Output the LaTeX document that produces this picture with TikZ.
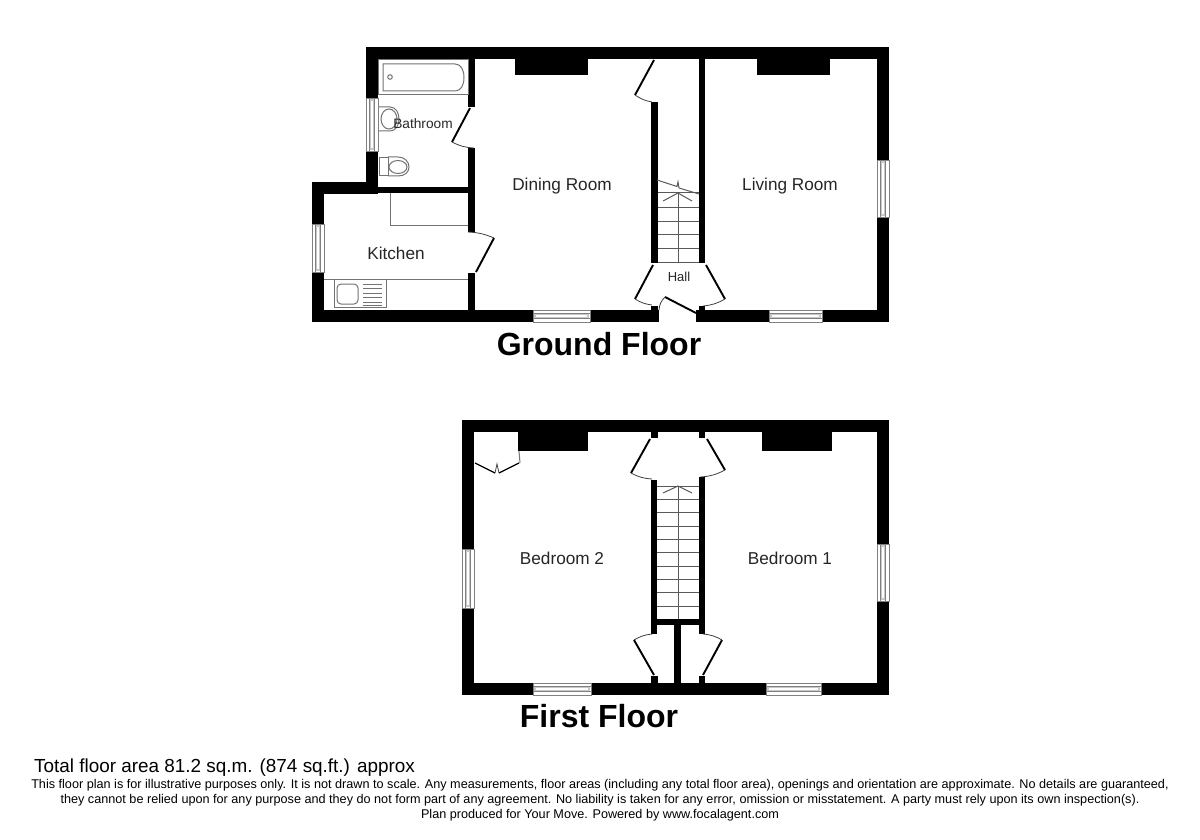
\documentclass[tikz,border=0pt]{standalone}
\usepackage{fontspec}
\setmainfont{Liberation Sans}
\tikzset{
  wall/.style={fill=black,draw=none},
  leaf/.style={line width=1.9pt,black},
  swing/.style={line width=0.8pt,black!75},
  thin line/.style={line width=1pt,black!65},
  fixture/.style={line width=1pt,black!55},
  roomlabel/.style={font=\fontsize{17.2}{20}\selectfont,text=black!85,inner sep=0pt},
  floorlabel/.style={font=\fontsize{32}{36}\selectfont\bfseries,inner sep=0pt},
  note/.style={font=\fontsize{12.65}{15}\selectfont,inner sep=0pt},
}
\newcommand{\hwin}[3]{% x1 x2 ytop
  \fill[white] (#1,#3) rectangle (#2,#3+12);
  \draw[line width=0.7pt,black!50] (#1,#3) rectangle (#2,#3+12);
  \draw[line width=0.7pt,black!50] (#1,#3+3.5) -- (#2,#3+3.5) (#1,#3+8.5) -- (#2,#3+8.5);
  \fill[black!22] (#1+1,#3+4) rectangle (#2-1,#3+8);
  \fill[white] (#1+3,#3+5) rectangle (#2-3,#3+7);
}
\newcommand{\vwin}[3]{% xleft y1 y2
  \fill[white] (#1,#2) rectangle (#1+12,#3);
  \draw[line width=0.7pt,black!50] (#1,#2) rectangle (#1+12,#3);
  \draw[line width=0.7pt,black!50] (#1+3.5,#2) -- (#1+3.5,#3) (#1+8.5,#2) -- (#1+8.5,#3);
  \fill[black!22] (#1+4,#2+1) rectangle (#1+8,#3-1);
  \fill[white] (#1+5,#2+3) rectangle (#1+7,#3-3);
}
\begin{document}
\begin{tikzpicture}[x=1pt,y=-1pt]
\useasboundingbox[fill=white] (0,0) rectangle (1200,840);
% ---------- Ground floor walls
\path[wall] (366,47) rectangle (889,59);
\path[wall] (877,47) rectangle (889,322);
\path[wall] (312,310) rectangle (889,322);
\path[wall] (366,47) rectangle (378,193);
\path[wall] (312,182) rectangle (378,194);
\path[wall] (378,187) rectangle (475,193);
\path[wall] (312,182) rectangle (324,322);
\path[wall] (468,59) rectangle (475,107);
\path[wall] (468,148) rectangle (475,232);
\path[wall] (468,273) rectangle (475,310);
\path[wall] (515,59) rectangle (588,75);
\path[wall] (757,59) rectangle (830,75);
\path[wall] (651,102) rectangle (658,263);
\path[wall] (699,59) rectangle (705,263);
\path[wall] (651,306) rectangle (658,310);
\path[wall] (699,306) rectangle (705,310);
\fill[white] (659,310) rectangle (696,322.5);
\hwin{533}{590}{310}
\hwin{769}{822}{310}
\vwin{366}{98}{151}
\vwin{312}{224}{272}
\vwin{877}{160}{217}
% doors
\draw[leaf] (654,60) -- (635,95);
\draw[swing] (635,95) to[bend right=12] (652,102);
\draw[leaf] (470,108) -- (452,142);
\draw[swing] (452,142) to[bend right=12] (474,148);
\draw[swing] (468,232) to[bend left=10] (494,238);
\draw[leaf] (494,238) -- (476,272);
\draw[leaf] (653,265) -- (635,299);
\draw[swing] (635,299) to[bend right=12] (652,305);
\draw[leaf] (706,265) -- (725,299);
\draw[swing] (725,299) to[bend left=12] (703,306);
\draw[leaf] (696,313) -- (665,297);
\draw[swing] (665,297) to[bend right=20] (659,310);
% stairs ground
\foreach \yy in {193,207,221,234,248,262} \draw[thin line] (658,\yy) -- (699,\yy);
\draw[thin line] (678,193) -- (678,262);
\draw[thin line] (657,180) -- (677,186.5) -- (678,182) -- (679,188) -- (699,194);
\draw[thin line] (663,201) -- (678,193) -- (692,201);
% bathroom fixtures
\draw[fixture] (378.5,59.5) rectangle (468,95);
\draw[fixture] (383,64) -- (455,64) .. controls (461,64) and (464,70) .. (464,77.5) .. controls (464,85) and (461,91) .. (455,91) -- (383,91) -- cycle;
\draw[fixture] (390,77) circle (2.3);
\draw[fixture] (379,107) -- (390,107) .. controls (396,107) and (399,113) .. (399,119) .. controls (399,125) and (396,131) .. (390,131) -- (379,131);
\draw[fixture] (389,119) ellipse (8 and 10);
\draw[fixture] (379,158) rectangle (388,176);
\draw[fixture] (388,157) -- (398,157) .. controls (405,157) and (409,162) .. (409,167) .. controls (409,172) and (405,176) .. (398,176) -- (388,176);
\draw[fixture] (398,167) ellipse (9 and 6.5);
% kitchen fixtures
\draw[fixture] (390,193) -- (390,225) -- (468,225);
\draw[fixture] (324,279) -- (468,279);
\draw[fixture] (334,279) rectangle (386,307);
\draw[fixture,rounded corners=4pt] (337,284) rectangle (358,304);
\foreach \yy in {284,288,293,297,302,305} \draw[fixture] (363,\yy) -- (382,\yy);
% ---------- First floor walls
\path[wall] (462,420) rectangle (889,432);
\path[wall] (462,420) rectangle (474,695);
\path[wall] (877,420) rectangle (889,695);
\path[wall] (462,683) rectangle (889,695);
\path[wall] (518,432) rectangle (588,451);
\path[wall] (762,432) rectangle (832,451);
\path[wall] (651,432) rectangle (658,438);
\path[wall] (699,432) rectangle (705,438);
\path[wall] (651,480) rectangle (657,634);
\path[wall] (699,477) rectangle (705,634);
\path[wall] (651,619) rectangle (705,625);
\path[wall] (674,625) rectangle (681,683);
\path[wall] (651,676) rectangle (658,683);
\path[wall] (699,676) rectangle (705,683);
\hwin{533}{591}{683}
\hwin{766}{821}{683}
\vwin{462}{549}{608}
\vwin{877}{544}{601}
% closet
\draw[fixture] (519,451) -- (520,463);
\draw[leaf,line width=1.3pt] (475,463) -- (495,473);
\draw[leaf,line width=1.3pt] (519,463) -- (499,473);
\draw[swing] (495,473) -- (497,464) -- (499,473);
% first floor doors
\draw[leaf] (650,439) -- (631,473);
\draw[swing] (631,473) to[bend right=12] (652,479);
\draw[leaf] (707,439) -- (725,470);
\draw[swing] (725,470) to[bend left=12] (700,477);
\draw[swing] (652,634) to[bend right=12] (634,640);
\draw[leaf] (634,640) -- (654,675);
\draw[swing] (703,634) to[bend left=12] (722,640);
\draw[leaf] (722,640) -- (703,675);
% stairs first
\foreach \yy in {486,499,512.5,526,539,552.5,566,579,592.5,606} \draw[thin line] (657,\yy) -- (699,\yy);
\draw[thin line] (678,486) -- (678,619);
\draw[thin line] (663,493) -- (678,486) -- (692,493);
% ---------- Labels
\node[roomlabel] (dining) at (562,186) {Dining Room};
\node[roomlabel] (living) at (790,186) {Living Room};
\node[roomlabel] (kitchen) at (396,253) {Kitchen};
\node[roomlabel,font=\fontsize{13.7}{16}\selectfont] (bath) at (423,124) {Bathroom};
\node[roomlabel,font=\fontsize{13}{15}\selectfont] (hall) at (679,276.5) {Hall};
\node[roomlabel] (bed2) at (562,558) {Bedroom 2};
\node[roomlabel] (bed1) at (790,558) {Bedroom 1};
\node[floorlabel] (gf) at (599,344) {Ground Floor};
\node[floorlabel] (ff) at (599,716) {First Floor};
\node[anchor=west,inner sep=0pt,font=\fontsize{18.9}{22}\selectfont] (area) at (34,768) {Total floor area 81.2 sq.m. (874 sq.ft.) approx};
\node[note] (n1) at (600,785) {This floor plan is for illustrative purposes only. It is not drawn to scale. Any measurements, floor areas (including any total floor area), openings and orientation are approximate. No details are guaranteed,};
\node[note] (n2) at (600,800) {they cannot be relied upon for any purpose and they do not form part of any agreement. No liability is taken for any error, omission or misstatement. A party must rely upon its own inspection(s).};
\node[note] (n3) at (600,815) {Plan produced for Your Move. Powered by www.focalagent.com};
\end{tikzpicture}
\end{document}
